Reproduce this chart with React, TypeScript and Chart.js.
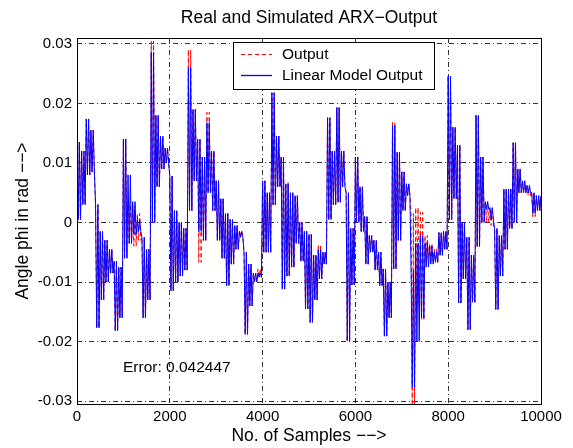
import React, { useEffect, useRef } from "react";
import { Chart, registerables } from "chart.js";
Chart.register(...registerables);

// Envelope of the dense oscillating signals, one value per 100-sample bin (units: 1e-3 rad)
const binSize = 100;
const modelHi = [
  13.5, 12, 17.4, 15.5, 3, -1.5, -3, -4.5, -6.5, -7.5,
  14, 8, 3.5, 0.5, -2.5, -4.5, 28.6, 18, 14.5, 12.5,
  7.8, 2, 0, -1, 26, 19, 14, 11, 16.8, 12,
  7, 4, 1.5, 0.5, -0.5, -1.5, -5, -7, -8.5, -8.5,
  7, 5, 21.8, 14.5, 11, 6.5, 5, 4.5, 0, -1.5,
  -2, -5.5, -4.5, -5, 17.6, 12, 19.3, 12, 5, -1,
  11, 6, 1, -2.2, -3, -5, -7.8, -10, 16.3, 11.8,
  8.5, 6.5, -8, -3.5, -2.2, -3.4, -4, -5, -1.7, -1.5,
  24.6, 16, 13, 0, -2.5, -5.5, 18, 11, 3.5, 2.5,
  -1, -2.2, 5.6, 5.6, 13.4, 9, 7, 6.2, 5, 4.5,
];
const modelLo = [
  0.5, 3, 8, 8.5, -17.7, -13, -10, -8.5, -18.2, -16,
  -6, -3.5, -2, -1.5, -16, -13, 0, 6, 9, 10,
  -11.5, -10, -9, -8, 2, 7, -1.5, -3, 5, 2,
  -3, -6, -10.6, -7, -4.5, -2.5, -18.8, -14, -10, -9.2,
  -5, -5, 3, 6, -11.2, -9, -7.5, -3.5, -6.5, -14.5,
  -16.8, -13, -9.5, -7, 0.5, 3, 3.4, 6, -19.9, -10.5,
  0, -1.5, -7, -5, -8, -10.6, -19.1, -16, -7.8, -3,
  2, 4.5, -27.7, -20, -16, -7.5, -7, -6.7, -5.5, -4.5,
  0.5, 4, -13.5, -9.5, -18, -13.4, -4, 0, 2.2, 0.5,
  -14.6, -9, -4.5, -1, 0, 5, 5, 5, 1.5, 2,
];
const outputHi = [
  13.5, 12, 17.4, 15.5, 3, -1.5, -3, -4.5, -6.5, -7.5,
  14, 3, 2.8, 1.5, -2.5, -4.5, 30.5, 18, 14.5, 12.5,
  7.8, 2, 0, -1, 29, 19, 14, 11, 18.5, 12,
  7, 4, 1.5, 0.5, -0.5, -1.3, -5, -7, -8.5, -7.8,
  7, 5, 21.8, 14.5, 11, 6.7, 5, 4.5, 0, -1.5,
  -2, -5.5, -3.9, -5, 17.6, 12, 19.3, 12, 5, -1,
  11, 6, 1, -2.2, -3, -5, -7.8, -10, 16.8, 11.8,
  8.5, 6.5, 1.5, 2.5, 1.7, -2.2, -3.5, -4.5, -1.7, -1.5,
  24.6, 16, 13, 0, -2.5, -5.5, 18, 11, 3.5, 2.5,
  -1, -2.2, 5.6, 5.6, 13.4, 9, 7, 6.2, 5, 4.5,
];
const outputLo = [
  0.5, 3, 8, 8.5, -17.7, -13, -10, -8.5, -18.2, -16,
  -6, -3.5, -4, -3, -16, -13, 0, 6, 9, 10,
  -11.2, -10, -9, -8, 2, 7, -6.7, -3, 5, 2,
  -3, -6, -10.6, -7, -4.5, -2.5, -18.8, -14, -10, -9.2,
  -5, -5, 3, 6, -11.2, -9, -7.5, -3.5, -6.5, -14.5,
  -16.8, -13, -9.5, -7, 0.5, 3, 3.4, 6, -19.9, -10.5,
  0, -1.5, -7, -5, -8, -10.6, -19.1, -16, -7.8, -3,
  2, 4.5, -30.8, -14, -16.5, -6, -6.5, -6.5, -5.5, -4.5,
  0.5, 4, -13.5, -9.5, -18, -13.4, -4.2, 0, 0, -0.5,
  -14.6, -9, -4.5, -1, 0, 5, 5, 4.5, 1, 2,
];

const xTicks = [0, 2000, 4000, 6000, 8000, 10000];
const yTicks = [-0.03, -0.02, -0.01, 0, 0.01, 0.02, 0.03];
const yTickLabels = ["-0.03", "-0.02", "-0.01", "0", "0.01", "0.02", "0.03"];
const xMin = 0;
const xMax = 10000;
const yMin = -0.0305;
const yMax = 0.031;

const titleText = "Real and Simulated ARX\u2212Output";
const xTitle = "No. of Samples \u2212\u2212>";
const yTitle = "Angle phi in rad \u2212\u2212>";
const errorText = "Error: 0.042447";
const legendLabels = ["Output", "Linear Model Output"];

const FONT = "'Liberation Sans', Arial, Helvetica, sans-serif";

function buildSeries(hi: number[], lo: number[]) {
  const pts: { x: number; y: number }[] = [];
  const perBin = 4;
  for (let b = 0; b < hi.length; b++) {
    for (let k = 0; k < perBin; k++) {
      const x = b * binSize + (k * binSize) / perBin;
      const v = k % 2 === 0 ? hi[b] : lo[b];
      pts.push({ x, y: v / 1000 });
    }
  }
  const last = hi.length - 1;
  pts.push({ x: xMax, y: hi[last] / 1000 });
  return pts;
}

const decorPlugin = {
  id: "decor",
  afterDatasetsDraw(chart: any) {
    const { ctx, chartArea } = chart;
    const { left, right, top, bottom } = chartArea;
    ctx.save();
    // box
    ctx.strokeStyle = "#000";
    ctx.lineWidth = 1;
    ctx.setLineDash([]);
    ctx.strokeRect(Math.round(left) + 0.5, Math.round(top) + 0.5, Math.round(right - left), Math.round(bottom - top));

    // legend
    const lx = 233, ly = 42, lw = 201, lh = 47;
    ctx.fillStyle = "#fff";
    ctx.fillRect(lx, ly, lw, lh);
    ctx.strokeStyle = "#000";
    ctx.strokeRect(lx + 0.5, ly + 0.5, lw, lh);
    ctx.font = `15.5px ${FONT}`;
    ctx.fillStyle = "#000";
    ctx.textBaseline = "middle";
    ctx.textAlign = "left";
    // Output (red dashed)
    ctx.strokeStyle = "#ff0000";
    ctx.setLineDash([4, 3]);
    ctx.beginPath();
    ctx.moveTo(241, 54.5);
    ctx.lineTo(272, 54.5);
    ctx.stroke();
    ctx.fillText(legendLabels[0], 282, 55);
    // model (blue solid)
    ctx.strokeStyle = "#0000ff";
    ctx.lineWidth = 1.3;
    ctx.setLineDash([]);
    ctx.beginPath();
    ctx.moveTo(241, 75.5);
    ctx.lineTo(272, 75.5);
    ctx.stroke();
    ctx.lineWidth = 1;
    ctx.fillText(legendLabels[1], 282, 76);

    // error text
    ctx.font = `15.5px ${FONT}`;
    ctx.fillText(errorText, 123, 368);

    // title
    ctx.textAlign = "center";
    ctx.font = `17.5px ${FONT}`;
    ctx.fillText(titleText, (left + right) / 2, 18);
    // x title
    ctx.fillText(xTitle, (left + right) / 2, 436);
    // y title
    ctx.translate(23, (top + bottom) / 2);
    ctx.rotate(-Math.PI / 2);
    ctx.fillText(yTitle, 0, 0);
    ctx.restore();
  },
};

export default function App() {
  const ref = useRef<HTMLCanvasElement | null>(null);
  useEffect(() => {
    if (!ref.current) return;
    const chart = new Chart(ref.current, {
      type: "line",
      data: {
        datasets: [
          {
            label: legendLabels[1],
            data: buildSeries(modelHi, modelLo),
            borderColor: "#0000ff",
            borderWidth: 1,
            pointRadius: 0,
            fill: false,
            tension: 0,
            order: 0,
          },
          {
            label: legendLabels[0],
            data: buildSeries(outputHi, outputLo),
            borderColor: "#ff0000",
            borderWidth: 1,
            borderDash: [4, 3],
            pointRadius: 0,
            fill: false,
            tension: 0,
            order: 1,
          },
        ],
      },
      options: {
        responsive: false,
        animation: false,
        parsing: false,
        normalized: true,
        layout: { padding: { left: 0, top: 38, right: 32, bottom: 0 } },
        plugins: {
          legend: { display: false },
          tooltip: { enabled: false },
          title: { display: false },
        },
        scales: {
          x: {
            type: "linear",
            min: xMin,
            max: xMax,
            afterBuildTicks: (scale: any) => {
              scale.ticks = xTicks.map((v) => ({ value: v }));
            },
            afterFit: (scale: any) => {
              scale.height = 44;
            },
            ticks: {
              color: "#000",
              font: { family: FONT, size: 15 },
              padding: 4,
              maxRotation: 0,
              autoSkip: false,
              callback: (v: any) => String(v),
            },
            grid: { color: "#000", lineWidth: 0.8, drawTicks: false },
            border: { display: false, dash: [5, 3, 1, 3] },
          },
          y: {
            type: "linear",
            min: yMin,
            max: yMax,
            afterBuildTicks: (scale: any) => {
              scale.ticks = yTicks.map((v) => ({ value: v }));
            },
            afterFit: (scale: any) => {
              scale.width = 77;
            },
            ticks: {
              color: "#000",
              font: { family: FONT, size: 15 },
              padding: 5,
              autoSkip: false,
              callback: (v: any) => {
                const i = yTicks.findIndex((t) => Math.abs(t - v) < 1e-9);
                return i >= 0 ? yTickLabels[i] : "";
              },
            },
            grid: { color: "#000", lineWidth: 0.8, drawTicks: false },
            border: { display: false, dash: [5, 3, 1, 3] },
          },
        },
      },
      plugins: [decorPlugin],
    } as any);
    return () => chart.destroy();
  }, []);
  return (
    <div style={{ position: "absolute", left: 0, top: 0, width: 573, height: 448, background: "#fff" }}>
      <canvas ref={ref} width={573} height={448} style={{ width: 573, height: 448 }} />
    </div>
  );
}
